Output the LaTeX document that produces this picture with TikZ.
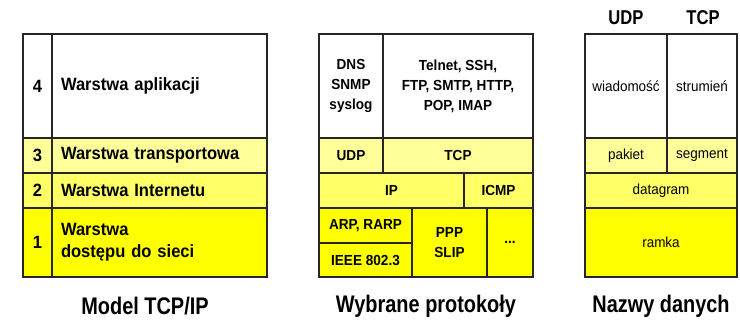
\documentclass[tikz,border=0pt]{standalone}
\usepackage{fontspec}
\setmainfont{Liberation Sans}
\newfontfamily\narrowfont[FakeStretch=0.83]{Liberation Sans}
\newfontfamily\midfont[FakeStretch=0.93]{Liberation Sans}
\definecolor{yA}{HTML}{FFFF99}
\definecolor{yB}{HTML}{FFFF66}
\definecolor{yC}{HTML}{FFFF00}
\begin{document}
\begin{tikzpicture}[x=1pt,y=-1pt,
  cell/.style={draw=black!85,line width=1.5pt,inner sep=0pt,anchor=center},
  lay/.style={cell,font=\midfont\fontsize{17.8}{22}\selectfont\bfseries,align=left,text width=197pt,inner xsep=9pt},
  num/.style={cell,font=\midfont\fontsize{17.8}{22}\selectfont\bfseries,minimum width=29pt},
  prot/.style={cell,font=\midfont\fontsize{14.6}{20}\selectfont\bfseries,align=center},
  nam/.style={cell,font=\midfont\fontsize{14.5}{20}\selectfont,align=center},
  title/.style={font=\narrowfont\fontsize{24}{28}\selectfont\bfseries},
  head/.style={font=\narrowfont\fontsize{20}{24}\selectfont\bfseries}]
\useasboundingbox (0,0) rectangle (740,321);
% ---- Model TCP/IP ----
\node[num,fill=white,minimum height=104pt] (n4) at (37.5,86) {4};
\node[num,fill=yA,minimum height=35pt] (n3) at (37.5,155.5) {3};
\node[num,fill=yB,minimum height=35pt] (n2) at (37.5,190.5) {2};
\node[num,fill=yC,minimum height=69pt] (n1) at (37.5,242.5) {1};
\node[lay,fill=white,minimum height=104pt] (l4) at (159.5,86) {Warstwa aplikacji};
\node[lay,fill=yA,minimum height=35pt] (l3) at (159.5,155.5) {Warstwa transportowa};
\node[lay,fill=yB,minimum height=35pt] (l2) at (159.5,190.5) {Warstwa Internetu};
\node[lay,fill=yC,minimum height=69pt] (l1) at (159.5,242.5) {Warstwa\\dostępu do sieci};
% ---- Wybrane protokoly ----
\node[prot,fill=white,minimum width=64pt,minimum height=104pt] (dns) at (351,86) {DNS\\SNMP\\syslog};
\node[prot,fill=white,minimum width=150pt,minimum height=104pt] (tel) at (458,86) {Telnet, SSH,\\FTP, SMTP, HTTP,\\POP, IMAP};
\node[prot,fill=yA,minimum width=64pt,minimum height=35pt] (udp) at (351,155.5) {UDP};
\node[prot,fill=yA,minimum width=150pt,minimum height=35pt] (tcp) at (458,155.5) {TCP};
\node[prot,fill=yB,minimum width=145pt,minimum height=35pt] (ip) at (391.5,190.5) {IP};
\node[prot,fill=yB,minimum width=69pt,minimum height=35pt] (icmp) at (498.5,190.5) {ICMP};
\node[prot,fill=yC,minimum width=93pt,minimum height=35pt] (arp) at (365.5,225.5) {ARP, RARP};
\node[prot,fill=yC,minimum width=93pt,minimum height=34pt] (ieee) at (365.5,260) {IEEE 802.3};
\node[prot,fill=yC,minimum width=75pt,minimum height=69pt] (ppp) at (449.5,242.5) {PPP\\SLIP};
\node[prot,fill=yC,minimum width=46pt,minimum height=69pt] (dots) at (510,242.5) {...};
% ---- Nazwy danych ----
\node[nam,fill=white,minimum width=82pt,minimum height=104pt] (wiad) at (626,86) {wiadomość};
\node[nam,fill=white,minimum width=70pt,minimum height=104pt] (strm) at (702,86) {strumień};
\node[nam,fill=yA,minimum width=82pt,minimum height=35pt] (pak) at (626,155.5) {pakiet};
\node[nam,fill=yA,minimum width=70pt,minimum height=35pt] (seg) at (702,155.5) {segment};
\node[nam,fill=yB,minimum width=152pt,minimum height=35pt] (dg) at (661,190.5) {datagram};
\node[nam,fill=yC,minimum width=152pt,minimum height=69pt] (ramka) at (661,242.5) {ramka};
\node[head] (hudp) at (626,18) {UDP};
\node[head] (htcp) at (703,18) {TCP};
% ---- titles ----
\node[title] (t1) at (145,306) {Model TCP/IP};
\node[title] (t2) at (426,306) {Wybrane protokoły};
\node[title] (t3) at (661,306) {Nazwy danych};
\end{tikzpicture}
\end{document}
